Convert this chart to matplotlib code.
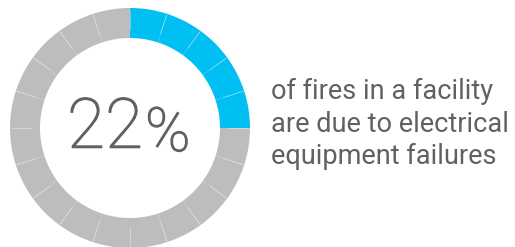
import numpy as np
import matplotlib.pyplot as plt
import matplotlib.patheffects as pe

# Data
total_segments = 20
filled_segments = 5
segment_values = [1] * total_segments
percent_value = "22"
caption_lines = ["of fires in a facility", "are due to electrical", "equipment failures"]

blue = "#00BFF2"
grey = "#BCBDBF"
text_color = "#606164"

W, H = 515, 247
fig = plt.figure(figsize=(W / 100, H / 100), dpi=100)
fig.patch.set_facecolor("white")

# donut axes: center (130, 128), outer radius 120 px
cx, cy, r = 130, 128, 120
ax = fig.add_axes([(cx - r) / W, (H - cy - r) / H, 2 * r / W, 2 * r / H])
colors = [blue if i < filled_segments else grey for i in range(total_segments)]
ax.pie(segment_values, colors=colors, startangle=90, counterclock=False,
       radius=1.0, wedgeprops=dict(width=0.25, linewidth=0))

# faint divider ticks at the segment boundaries
bounds = np.cumsum([0] + segment_values[:-1]) / sum(segment_values)
for b in bounds:
    a = np.pi / 2 - 2 * np.pi * b
    ax.plot([0.82 * np.cos(a), 0.99 * np.cos(a)], [0.82 * np.sin(a), 0.99 * np.sin(a)],
            color="white", alpha=0.35, lw=0.7, solid_capstyle="butt")

ax.set_xlim(-1, 1)
ax.set_ylim(-1, 1)
ax.set_aspect("equal")
ax.axis("off")

font = ["Roboto", "DejaVu Sans"]
thicken = [pe.withStroke(linewidth=0.8, foreground=text_color)]
fig.text(143 / W, 1 - 129 / H, percent_value, ha="right", va="center",
         fontsize=50, color=text_color, family=font, fontweight="light",
         path_effects=thicken)
fig.text(145 / W, 1 - 134 / H, "%", ha="left", va="center",
         fontsize=44, color=text_color, family=font, fontweight="light",
         path_effects=thicken)

for i, line in enumerate(caption_lines):
    fig.text(271 / W, 1 - (99 + 32.5 * i) / H, line, ha="left", va="baseline",
             fontsize=19.5, color=text_color, family=font)

fig.savefig("out.png", dpi=100, facecolor="white")
